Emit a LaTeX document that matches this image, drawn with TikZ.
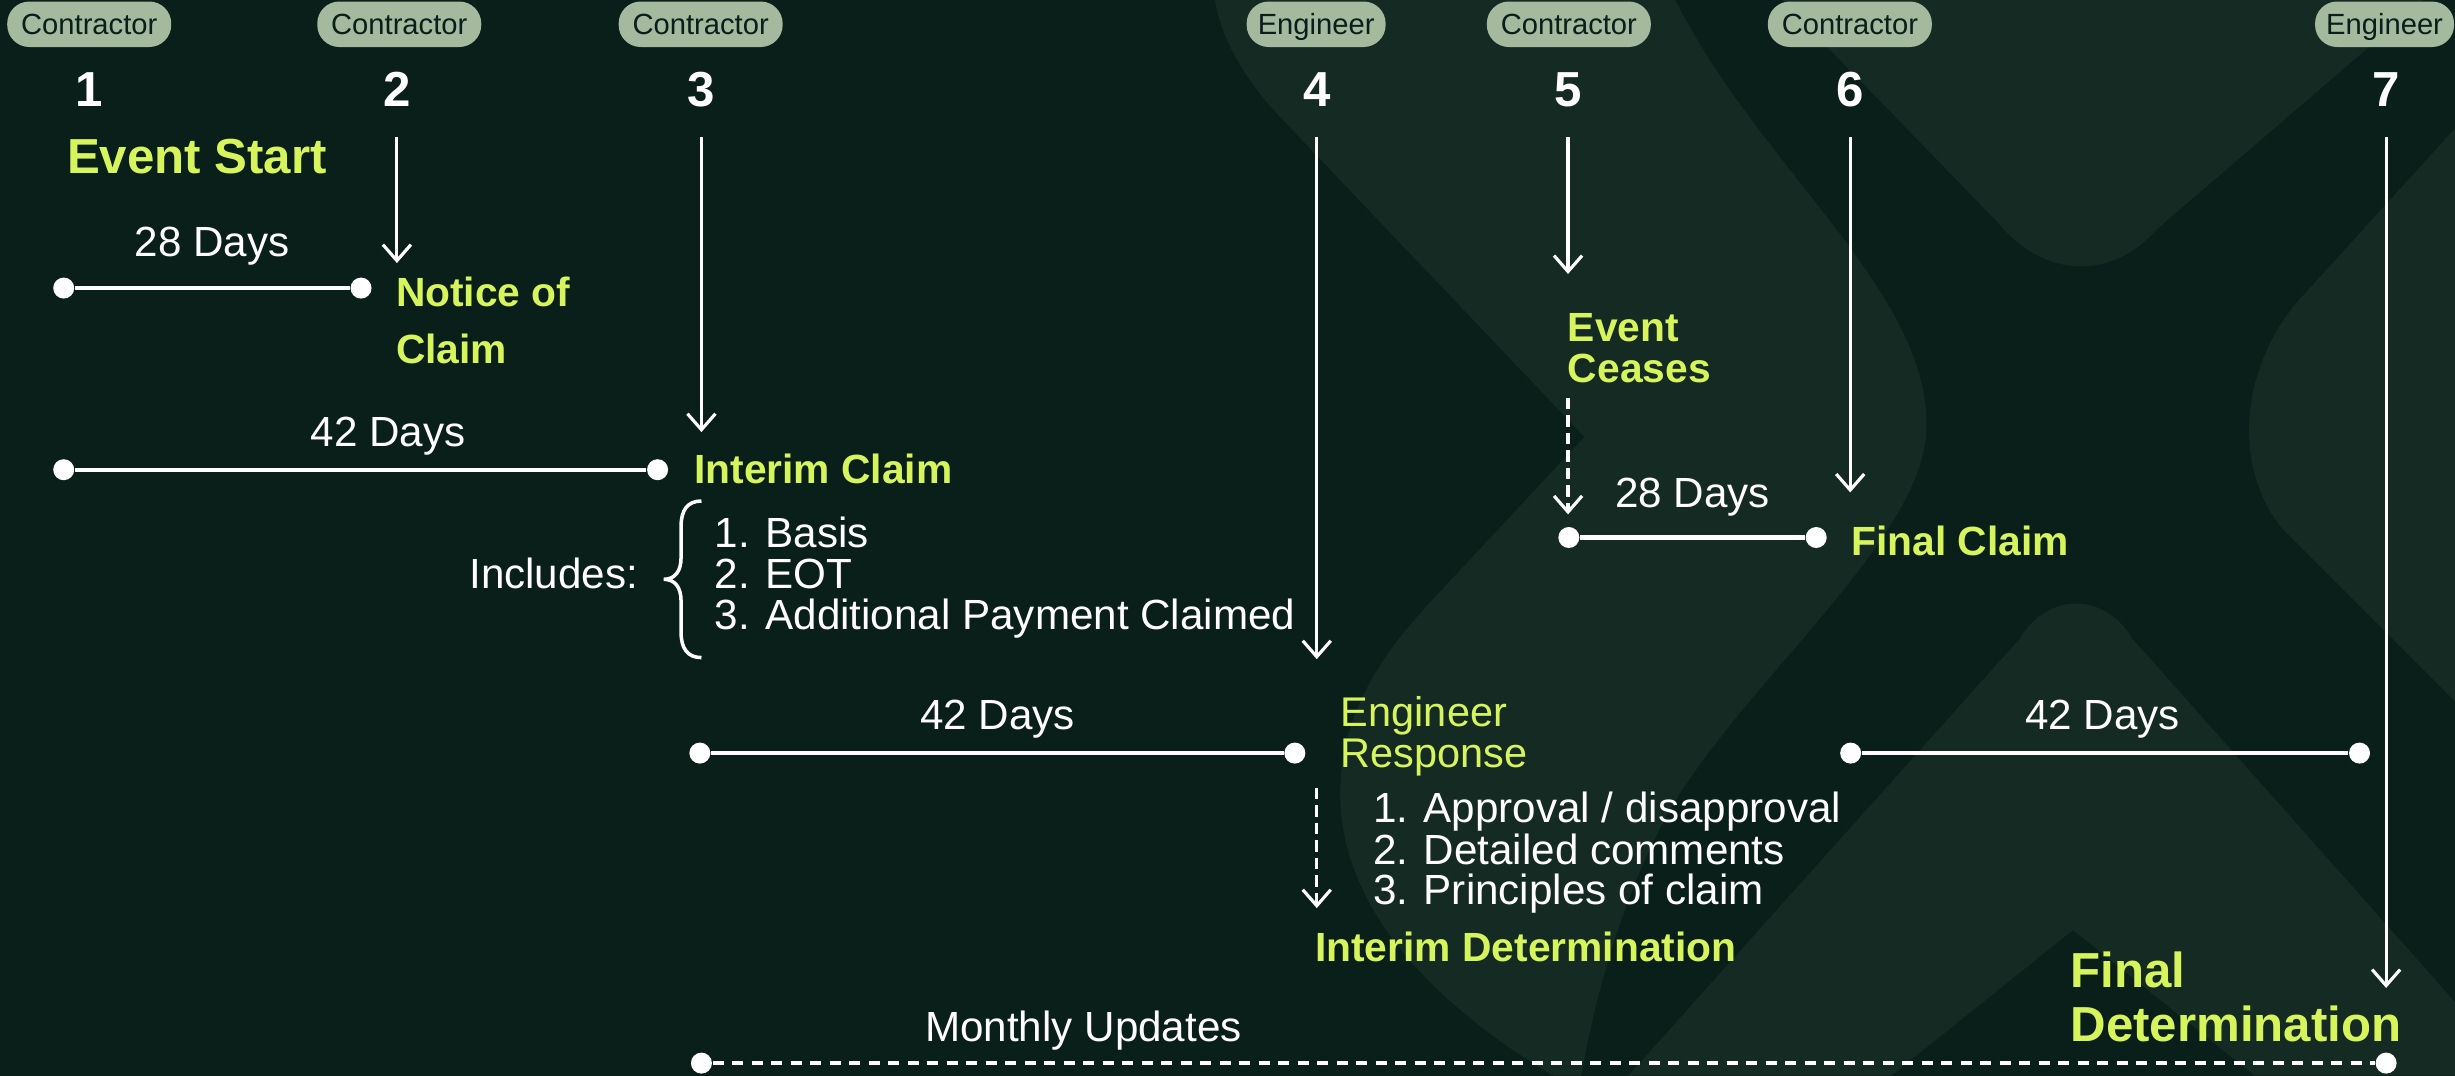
\documentclass[tikz,border=0pt]{standalone}
\usepackage{fontspec}
\setmainfont{Liberation Sans}
\usetikzlibrary{arrows.meta}
\definecolor{bgdark}{RGB}{10,31,25}
\definecolor{bglight}{RGB}{21,42,35}
\definecolor{lime}{RGB}{214,245,92}
\definecolor{sage}{RGB}{164,185,158}

\begin{document}
\begin{tikzpicture}[x=0.15657mm, y=-0.15657mm,
  pill/.style={rounded corners=2.2mm, fill=sage, text=bgdark, minimum height=4.55mm,
    inner sep=0pt, text height=2.1mm, text depth=0mm, font=\fontsize{8.3}{10}\selectfont},
  cpill/.style={pill, minimum width=16.4mm},
  epill/.style={pill, minimum width=13.9mm},
  num/.style={text=white, font=\fontsize{14}{16}\selectfont\bfseries, inner sep=0pt, anchor=base},
  big/.style={text=lime, font=\fontsize{14}{16}\selectfont\bfseries, inner sep=0pt, anchor=base west},
  hl/.style={text=lime, font=\fontsize{11.6}{13}\selectfont\bfseries, inner sep=0pt, anchor=base west},
  hlreg/.style={text=lime, font=\fontsize{11.8}{13}\selectfont, inner sep=0pt, anchor=base west},
  lab/.style={text=white, font=\fontsize{12}{14}\selectfont, inner sep=0pt, anchor=base},
  item/.style={lab, anchor=base west},
  dot/.style={circle, fill=white, inner sep=0pt, minimum size=2.1mm},
  span/.style={white, line width=1.25pt},
  dotspan/.style={white, line width=1.15pt, dash pattern=on 1.1mm off 0.85mm},
  drop/.style={white, line width=0.9pt, -{Straight Barb[length=1.6mm, width=2.8mm]}},
  ddrop/.style={drop, dash pattern=on 1.15mm off 0.6mm}
]
% canvas
\useasboundingbox (0,0) rectangle (1568,687);
\fill[bgdark] (0,0) rectangle (1568,687);

% watermark shapes
\fill[bglight] (776,0) -- (1070,0)
  .. controls (1125,110) and (1238,190) .. (1230,280)
  .. controls (1222,350) and (1110,440) .. (1065,520)
  .. controls (1035,575) and (1018,640) .. (1010,687)
  -- (992,687)
  .. controls (930,650) and (858,590) .. (856,510)
  .. controls (855,455) and (885,415) .. (915,383)
  -- (1012,279) -- (815,72)
  .. controls (795,50) and (780,25) .. (776,0) -- cycle;
\fill[bglight] (1138,0) -- (1275,141)
  .. controls (1305,178) and (1348,180) .. (1378,146) -- (1548,0) -- cycle;
\fill[bglight] (1568,82) -- (1468,192)
  .. controls (1430,236) and (1426,300) .. (1458,338) -- (1568,448) -- cycle;
\fill[bglight] (1040,687) -- (1290,408)
  .. controls (1308,378) and (1344,378) .. (1362,408) -- (1568,640)
  -- (1568,687) -- (1440,687) -- (1324,594) -- (1208,687) -- cycle;

% parties
\node[cpill] (r1) at (57,15.5) {Contractor};
\node[cpill] (r2) at (255,15.5) {Contractor};
\node[cpill] (r3) at (447.5,15.5) {Contractor};
\node[epill] (r4) at (840.6,15.5) {Engineer};
\node[cpill] (r5) at (1002,15.5) {Contractor};
\node[cpill] (r6) at (1181.5,15.5) {Contractor};
\node[epill] (r7) at (1523,15.5) {Engineer};

% step numbers
\node[num] (n1) at (57,68) {1};
\node[num] (n2) at (253.5,68) {2};
\node[num] (n3) at (448,68) {3};
\node[num] (n4) at (841,68) {4};
\node[num] (n5) at (1001.5,68) {5};
\node[num] (n6) at (1181.7,68) {6};
\node[num] (n7) at (1524,68) {7};

% step 1 / 2
\node[big] (evstart) at (42.4,111) {Event Start};
\node[lab] (t28a) at (135.6,164) {28 Days};
\node[dot] (d1a) at (40.7,184) {};
\node[dot] (d1b) at (230.6,184) {};
\draw[span] (d1a) -- (d1b);
\node[hl] (notice1) at (252.5,196) {Notice of};
\node[hl] (notice2) at (252.5,232) {Claim};
\coordinate (s2) at (253.5,87.5);
\coordinate (e2) at (253.5,168);
\draw[drop] (s2) -- (e2);

% step 3
\node[lab] (t42a) at (248,285) {42 Days};
\node[dot] (d2a) at (40.7,300) {};
\node[dot] (d2b) at (420,300) {};
\draw[span] (d2a) -- (d2b);
\node[hl] (interim) at (443,309) {Interim Claim};
\coordinate (s3) at (448,87.5);
\coordinate (e3) at (448,276);
\draw[drop] (s3) -- (e3);
\node[lab, anchor=base east] (incl) at (408,376) {Includes:};
\draw[white, line width=1pt] (448,320) .. controls (439,320) and (435,326) .. (435,336)
  -- (435,356) .. controls (435,365) and (431,370) .. (424,370)
  .. controls (431,370) and (435,375) .. (435,384)
  -- (435,404) .. controls (435,414) and (439,420) .. (448,420);
\node[item] (ic1) at (456,350) {1. Basis};
\node[item] (ic2) at (456,376) {2. EOT};
\node[item] (ic3) at (456,402) {3. Additional Payment Claimed};

% step 4
\coordinate (s4) at (841,87.5);
\coordinate (e4) at (841,421);
\draw[drop] (s4) -- (e4);
\node[lab] (t42b) at (637,466) {42 Days};
\node[dot] (d3a) at (447,481) {};
\node[dot] (d3b) at (827,481) {};
\draw[span] (d3a) -- (d3b);
\node[hlreg] (eng1) at (856,464) {Engineer};
\node[hlreg] (eng2) at (856,490) {Response};
\coordinate (s4b) at (841,503);
\coordinate (e4b) at (841,580);
\draw[ddrop] (s4b) -- (e4b);
\node[item] (er1) at (876.5,525.5) {1. Approval / disapproval};
\node[item] (er2) at (876.5,552) {2. Detailed comments};
\node[item] (er3) at (876.5,577.5) {3. Principles of claim};
\node[hl] (intdet) at (839.5,614) {Interim Determination};

% step 5 / 6
\coordinate (s5) at (1001.5,87.5);
\coordinate (e5) at (1001.5,175);
\draw[drop] (s5) -- (e5);
\node[hl] (cease1) at (1001,218) {Event};
\node[hl] (cease2) at (1001,244) {Ceases};
\coordinate (s5b) at (1001.5,254);
\coordinate (e5b) at (1001.5,328.5);
\draw[ddrop] (s5b) -- (e5b);
\node[lab] (t28b) at (1081,324) {28 Days};
\node[dot] (d4a) at (1002,343.3) {};
\node[dot] (d4b) at (1160,343.3) {};
\draw[span] (d4a) -- (d4b);
\node[hl] (fclaim) at (1182,355) {Final Claim};
\coordinate (s6) at (1181.7,87.5);
\coordinate (e6) at (1181.7,314.5);
\draw[drop] (s6) -- (e6);

% step 7
\node[lab] (t42c) at (1343,466) {42 Days};
\node[dot] (d5a) at (1182,481) {};
\node[dot] (d5b) at (1507,481) {};
\draw[span] (d5a) -- (d5b);
\coordinate (s7) at (1524,87.5);
\coordinate (e7) at (1524,631);
\draw[drop] (s7) -- (e7);
\node[big] (fdet1) at (1322,631) {Final};
\node[big] (fdet2) at (1322,665) {Determination};

% monthly updates
\node[lab] (monthly) at (692,665) {Monthly Updates};
\node[dot] (d6a) at (448,679) {};
\node[dot] (d6b) at (1524,679) {};
\draw[dotspan] (d6a) -- (d6b);
\end{tikzpicture}
\end{document}
